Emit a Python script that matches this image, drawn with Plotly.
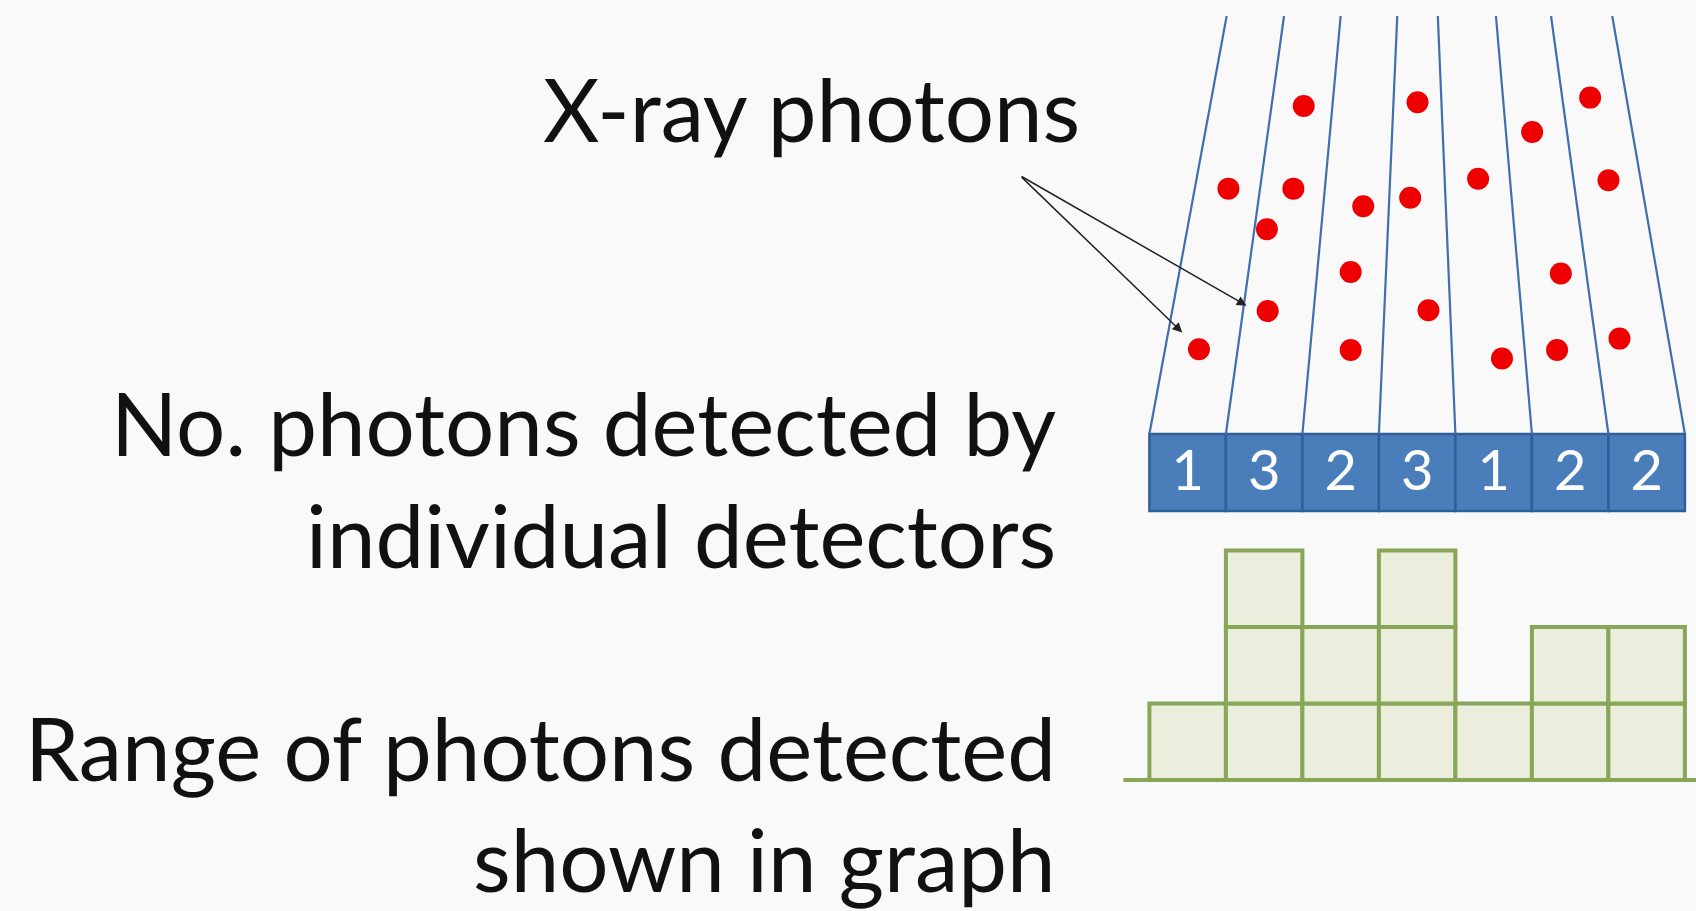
import plotly.graph_objects as go

# ---------------- data ----------------
detector_ids = [0, 1, 2, 3, 4, 5, 6]
counts = [1, 3, 2, 3, 1, 2, 2]

# collimator lines (detector units): top ends, bottom ends at detector edges
line_top_x = [1.01, 1.76, 2.50, 3.24, 3.77, 4.53, 5.25, 6.05]
line_bottom_x = [0, 1, 2, 3, 4, 5, 6, 7]

# photon positions (detector units across, square units up from histogram baseline)
photon_x = [2.017, 3.505, 5.761, 5.003, 1.033, 1.882, 4.297, 6.001, 2.795, 3.409,
            1.536, 2.631, 5.378, 1.546, 3.648, 0.648, 2.631, 4.609, 5.329, 6.145]
photon_y = [8.81, 8.86, 8.92, 8.47, 7.73, 7.73, 7.86, 7.84, 7.50, 7.61,
            7.20, 6.64, 6.62, 6.13, 6.14, 5.63, 5.62, 5.51, 5.62, 5.77]

# arrow (label -> photons)
arrow_start = (-1.69, 7.90)
arrow_ends_x = [0.43, 1.27]
arrow_ends_y = [5.85, 6.20]

labels = ["X-ray photons",
          "No. photons detected by",
          "individual detectors",
          "Range of photons detected",
          "shown in graph"]

# ---------------- layout constants ----------------
W, H = 1696, 911
U = 76.5            # pixels per unit
X0, Y0 = 1149.4, 780.0  # pixel position of origin
xr = [-X0 / U, (W - X0) / U]
yr = [-(H - Y0) / U, Y0 / U]

det_bottom = (Y0 - 511) / U
det_top = (Y0 - 434) / U
line_top_y = (Y0 - 16) / U

BLUE = "#4a7ebb"
BLUE_DARK = "#2f5f99"
LINE_BLUE = "#3f6fae"
GREEN = "#87a657"
GREEN_FILL = "#ebeedd"
RED = "#ee0000"

fig = go.Figure()

# histogram: stacked squares
for level in range(1, max(counts) + 1):
    xs = [d + 0.5 for d, c in zip(detector_ids, counts) if c >= level]
    fig.add_trace(go.Bar(
        x=xs, y=[1] * len(xs), base=[level - 1] * len(xs), width=1,
        marker=dict(color=GREEN_FILL, line=dict(color=GREEN, width=4)),
        showlegend=False, hoverinfo="skip"))

# baseline of histogram
fig.add_trace(go.Scatter(
    x=[-0.34, xr[1]], y=[0, 0], mode="lines",
    line=dict(color=GREEN, width=4), showlegend=False, hoverinfo="skip"))

# detector row
fig.add_trace(go.Bar(
    x=[d + 0.5 for d in detector_ids], y=[det_top - det_bottom] * len(detector_ids),
    base=[det_bottom] * len(detector_ids), width=1,
    marker=dict(color=BLUE, line=dict(color=BLUE_DARK, width=2.5)),
    showlegend=False, hoverinfo="skip"))
fig.add_trace(go.Scatter(
    x=[d + 0.5 for d in detector_ids],
    y=[(det_top + det_bottom) / 2 - 0.04] * len(detector_ids),
    mode="text", text=[str(c) for c in counts],
    textfont=dict(family="Lato", size=56, color="white"),
    showlegend=False, hoverinfo="skip"))

# collimator lines
lx, ly = [], []
for t, b in zip(line_top_x, line_bottom_x):
    lx += [t, b, None]
    ly += [line_top_y, det_top, None]
fig.add_trace(go.Scatter(
    x=lx, y=ly, mode="lines", line=dict(color=LINE_BLUE, width=2.2),
    showlegend=False, hoverinfo="skip"))

# photons
fig.add_trace(go.Scatter(
    x=photon_x, y=photon_y, mode="markers",
    marker=dict(color=RED, size=22, line=dict(width=0)),
    showlegend=False, hoverinfo="skip"))

# arrows
for ex, ey in zip(arrow_ends_x, arrow_ends_y):
    fig.add_annotation(
        x=ex, y=ey, ax=arrow_start[0], ay=arrow_start[1],
        xref="x", yref="y", axref="x", ayref="y",
        showarrow=True, arrowhead=2, arrowsize=1.3, arrowwidth=1.5,
        arrowcolor="#222222", text="")

# text labels
FS = 87
label_right = [1082, 1058, 1058, 1058, 1058]
label_baseline = [140, 454, 566, 779, 890]
for txt, rx, bl in zip(labels, label_right, label_baseline):
    cy = bl - 0.36 * FS
    fig.add_annotation(
        x=rx / W, y=1 - cy / H, xref="paper", yref="paper",
        xanchor="right", yanchor="middle", showarrow=False,
        text=txt, font=dict(family="Lato", size=FS, color="#111111"))

fig.update_layout(
    width=W, height=H, margin=dict(l=0, r=0, t=0, b=0),
    paper_bgcolor="#f9f9f9", plot_bgcolor="#f9f9f9",
    barmode="overlay",
    xaxis=dict(range=xr, visible=False, fixedrange=True),
    yaxis=dict(range=yr, visible=False, fixedrange=True),
)

fig.write_html(
    "out.html",
    config={"displayModeBar": False},
    post_script="document.body.style.margin='0';document.body.style.overflow='hidden';",
)
